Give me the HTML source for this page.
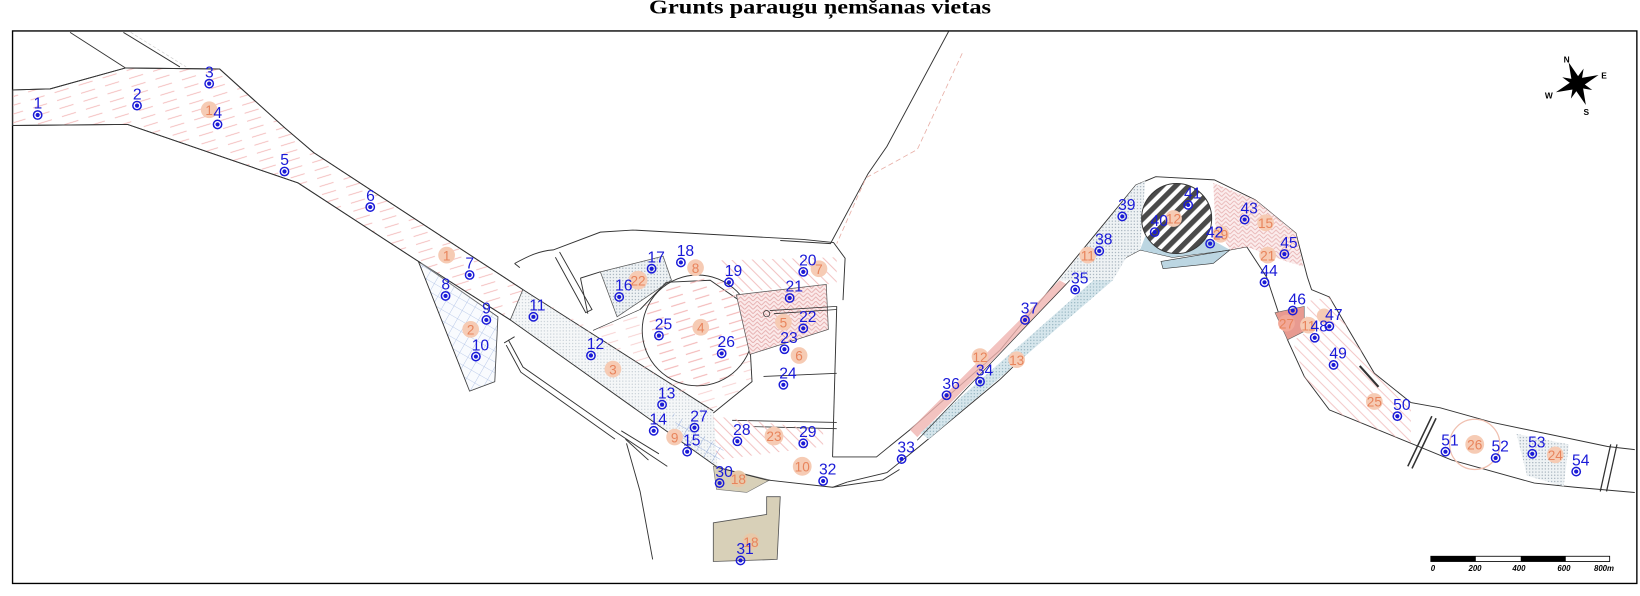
<!DOCTYPE html>
<html><head><meta charset="utf-8"><style>
html,body{margin:0;padding:0;background:#fff;}
svg{display:block;}
.m text{font-family:"Liberation Sans",sans-serif;font-size:15px;fill:#1a1ad8;}
.o text{font-family:"Liberation Sans",sans-serif;font-size:13px;fill:#e8845c;text-anchor:middle;}
</style></head><body>
<svg width="1640" height="596" viewBox="0 0 1568 570" preserveAspectRatio="none" xmlns="http://www.w3.org/2000/svg">
<defs>
<pattern id="rh" patternUnits="userSpaceOnUse" width="24" height="8" patternTransform="rotate(-17)">
<line x1="0" y1="4" x2="14" y2="4" stroke="#f2b4b4" stroke-width="0.8"/></pattern>
<pattern id="rd" patternUnits="userSpaceOnUse" width="7" height="7" patternTransform="rotate(45)">
<line x1="0" y1="3" x2="7" y2="3" stroke="#efb4b4" stroke-width="0.8"/></pattern>
<pattern id="bg" patternUnits="userSpaceOnUse" width="9" height="9" patternTransform="rotate(30)">
<path d="M0 0H9M0 0V9" stroke="#8aa4d8" stroke-width="0.8" fill="none"/></pattern>
<pattern id="dt" patternUnits="userSpaceOnUse" width="3" height="3">
<rect width="3" height="3" fill="#eef2f4"/><circle cx="1.5" cy="1.5" r="0.6" fill="#9aa8b4"/></pattern>
<pattern id="bd" patternUnits="userSpaceOnUse" width="3" height="3">
<rect width="3" height="3" fill="#d6e6ec"/><circle cx="1.5" cy="1.5" r="0.6" fill="#8fb0bd"/></pattern>
<pattern id="bk" patternUnits="userSpaceOnUse" width="9" height="9" patternTransform="rotate(-45)">
<rect width="9" height="9" fill="#fff"/><rect width="9" height="5" fill="#4a4a4a"/></pattern>
<pattern id="hb" patternUnits="userSpaceOnUse" width="8" height="8">
<rect width="8" height="8" fill="#fbeaea"/><path d="M0 8L4 4L8 8M0 4L4 0L8 4" stroke="#e4a8a8" stroke-width="0.8" fill="none"/></pattern>
</defs>

<text x="784" y="13" text-anchor="middle" font-family="Liberation Serif,serif" font-weight="bold" font-size="19" textLength="327" lengthAdjust="spacingAndGlyphs">Grunts paraugu ņemšanas vietas</text>
<rect x="12" y="29.6" width="1553" height="528.4" fill="none" stroke="#000" stroke-width="1.3"/>

<polygon points="12,86 48,85 120,65 210,66 272,122 300,146 500,277 488,306 400,250 285,175 122,119 12,120" fill="url(#rh)" stroke="#333" stroke-width="0.9"/>
<polygon points="500,277 682,393 686,447 488,306" fill="url(#dt)" opacity="0.6"/>
<path d="M12,86 48,85 120,65 210,66 272,122 300,146 500,277 682,393" fill="none" stroke="#333" stroke-width="0.9"/>
<path d="M12,120 122,119 285,175 400,250 488,306 686,447" fill="none" stroke="#333" stroke-width="0.9"/>
<path d="M67,31 120,65 M118,31 172,64" stroke="#333" stroke-width="0.9" fill="none"/>
<path d="M125,31 178,64" stroke="#ccc" stroke-width="0.6" stroke-dasharray="3,2" fill="none"/>
<polygon points="400,250 476,303 473,365 449,374" fill="url(#bg)" stroke="#333" stroke-width="0.9"/>
<polygon points="402,250 476,303 473,365 449,374" fill="#eef3fb" opacity="0.35"/>

<path d="M492,252 C505,245 515,240 529,239 L574,222 605,220 768,229 797,232 808,247 806,287" fill="none" stroke="#333" stroke-width="0.9"/>
<path d="M497,256 L492,252" stroke="#333" stroke-width="0.9"/>
<path d="M800,293 L796,437" fill="none" stroke="#333" stroke-width="0.9"/>
<path d="M535,241 L566,296 560,299 531,246" fill="none" stroke="#333" stroke-width="0.9"/>
<path d="M555,266 L574,260 M555,266 L562,300" fill="none" stroke="#333" stroke-width="0.9"/>
<path d="M486,325 L500,351 590,414 638,446" fill="none" stroke="#333" stroke-width="0.9"/>
<path d="M482,328 L492,322 M484,330 L498,356 588,420" fill="none" stroke="#333" stroke-width="0.9"/>
<path d="M599,424 L612,470 624,535" fill="none" stroke="#333" stroke-width="0.9"/>
<path d="M594,412 L630,434 M598,420 L620,440" fill="none" stroke="#333" stroke-width="0.9"/>
<path d="M907,30 L848,140 830,166 794,233 746,230" fill="none" stroke="#333" stroke-width="0.9"/>
<path d="M920,51 L877,143 828,170 800,233" fill="none" stroke="#e8b0a8" stroke-width="0.8" stroke-dasharray="5,3"/>
<polygon points="574,260 634,245 642,268 590,303" fill="url(#dt)" stroke="#555" stroke-width="0.7"/>
<polygon points="567,316 612,296 637,270 679,268 715,293 719,365 682,395 500,277" fill="url(#rh)" opacity="0.7"/>
<path d="M612,296 L637,270 679,268 715,293 719,365 682,395" fill="none" stroke="#333" stroke-width="0.9"/>
<path d="M567,316 L612,296" stroke="#333" stroke-width="0.6"/>
<circle cx="667" cy="316" r="53" fill="url(#rh)" stroke="#333" stroke-width="0.9"/>
<polygon points="688,249 800,246 800,271 701,280" fill="url(#rd)"/>
<polygon points="704,282 790,272 792,315 717,339" fill="url(#hb)" stroke="#555" stroke-width="0.7"/>
<path d="M736,297 L800,293 M740,300 L800,296 M730,360 L800,357 M700,402 L800,404 M720,408 L800,410" stroke="#333" stroke-width="0.8" fill="none"/>
<circle cx="733" cy="300" r="3" fill="none" stroke="#333" stroke-width="0.7"/>
<polygon points="682,398 787,411 787,427 685,440" fill="url(#rd)"/>
<polygon points="640,392 692,430 686,447 655,425" fill="url(#bg)"/>
<polygon points="682,446 736,459 714,471 685,468" fill="#d8d0b8" stroke="#777" stroke-width="0.6"/>
<polygon points="682,500 733,492 733,475 746,475 743,535 682,537" fill="#d8d0b8" stroke="#555" stroke-width="0.8"/>

<path d="M686,447 733,459 796,466 844,459 860,449" fill="none" stroke="#333" stroke-width="0.9"/>
<path d="M796,437 838,437 870,411 956,335 1086,177 1105,169 1161,172 1200,191 1239,223 1250,265 1254,277 1271,284 1314,357 1349,385 1377,390 1427,404 1537,427 1563,430" fill="none" stroke="#333" stroke-width="0.9"/>
<path d="M810,461 848,452 879,427 956,363 1077,246 1090,239 1121,246 1176,239 1192,236 1211,265 1231,325 1247,360 1271,392 1310,408 1349,424 1388,440 1467,462 1506,466 1563,471" fill="none" stroke="#333" stroke-width="0.9"/>
<path d="M796,466 810,461" stroke="#333" stroke-width="0.9"/>
<polygon points="870,411 1013,268 1020,272 877,418" fill="#f0b4b0" opacity="0.8"/>
<polygon points="888,420 1064,268 1050,264 880,414" fill="url(#bd)"/>
<path d="M877,421 L1023,268" stroke="#333" stroke-width="0.7"/>
<polygon points="1013,268 1086,177 1095,173 1090,239 1077,246 1064,268" fill="url(#dt)"/>
<polygon points="1090,239 1121,246 1176,239 1160,230 1120,222 1095,226" fill="#bcd6e2"/>
<polygon points="1110,250 1176,239 1160,252 1112,257" fill="#bcd6e2" stroke="#333" stroke-width="0.6"/>
<circle cx="1125" cy="209" r="33.5" fill="url(#bk)" stroke="#333" stroke-width="0.9"/>
<polygon points="1160,175 1200,191 1239,223 1246,255 1230,250 1192,236 1176,239 1162,215" fill="url(#hb)" opacity="0.9"/>
<polygon points="1219,299 1247,293 1247,317 1231,325" fill="#e89a90" stroke="#666" stroke-width="0.6"/>
<polygon points="1250,288 1271,284 1314,357 1349,385 1349,424 1310,408 1271,392 1247,360 1236,326 1248,318" fill="url(#rd)" opacity="0.9"/>
<polygon points="1450,415 1500,425 1495,465 1460,455" fill="url(#dt)"/>
<circle cx="1410" cy="425" r="24" fill="none" stroke="#f0c0b0" stroke-width="1.2"/>
<path d="M1373,400 L1350,448 M1369,398 L1346,446" stroke="#333" stroke-width="1.5"/>
<path d="M1540,425 L1530,470 M1546,425 L1536,470" stroke="#333" stroke-width="1.2"/>
<path d="M1300,350 L1318,370" stroke="#333" stroke-width="2"/>

<g transform="translate(1508,80) rotate(-22)">
<polygon points="0,-22 4,-4 0,0 -4,-4" fill="#000"/><polygon points="0,22 4,4 0,0 -4,4" fill="#000"/>
<polygon points="22,0 4,4 0,0 4,-4" fill="#000"/><polygon points="-22,0 -4,4 0,0 -4,-4" fill="#000"/>
<polygon points="11,-11 3,2 0,0 -2,-3" fill="#000"/><polygon points="-11,11 -3,-2 0,0 2,3" fill="#000"/>
<polygon points="11,11 -2,3 0,0 3,-2" fill="#000"/><polygon points="-11,-11 2,-3 0,0 -3,2" fill="#000"/>
</g>
<g font-family="Liberation Sans,sans-serif" font-weight="bold" font-size="8" fill="#000">
<text x="1495" y="60">N</text><text x="1531" y="75">E</text><text x="1477" y="94">W</text><text x="1514" y="110">S</text></g>
<rect x="1368" y="532" width="171" height="5" fill="#fff" stroke="#000" stroke-width="0.8"/>
<rect x="1368" y="532" width="43" height="5" fill="#000"/><rect x="1454" y="532" width="43" height="5" fill="#000"/>
<g font-family="Liberation Sans,sans-serif" font-style="italic" font-weight="bold" font-size="7.5" fill="#000">
<text x="1368" y="546">0</text><text x="1404" y="546">200</text><text x="1446" y="546">400</text><text x="1489" y="546">600</text><text x="1524" y="546">800m</text></g>

<g class="o">
<circle cx="200" cy="105" r="8" fill="#f6cbb4"/><text x="200" y="110">1</text>
<circle cx="427" cy="244" r="8" fill="#f6cbb4"/><text x="427" y="249">1</text>
<circle cx="450" cy="315" r="8" fill="#f6cbb4"/><text x="450" y="320">2</text>
<circle cx="586" cy="353" r="8" fill="#f6cbb4"/><text x="586" y="358">3</text>
<circle cx="670" cy="313" r="8" fill="#f6cbb4"/><text x="670" y="318">4</text>
<circle cx="749" cy="308" r="8" fill="#f6cbb4"/><text x="749" y="313">5</text>
<circle cx="764" cy="340" r="8" fill="#f6cbb4"/><text x="764" y="345">6</text>
<circle cx="783" cy="257" r="8" fill="#f6cbb4"/><text x="783" y="262">7</text>
<circle cx="665" cy="256" r="8" fill="#f6cbb4"/><text x="665" y="261">8</text>
<circle cx="645" cy="418" r="8" fill="#f6cbb4"/><text x="645" y="423">9</text>
<circle cx="767" cy="446" r="9" fill="#f6cbb4"/><text x="767" y="451">10</text>
<circle cx="706" cy="458" r="8" fill="#e8c8a8"/><text x="706" y="463">18</text>
<circle cx="718" cy="518" r="8" fill="#e8c8a8"/><text x="718" y="523">18</text>
<circle cx="610" cy="268" r="9" fill="#f6cbb4"/><text x="610" y="273">22</text>
<circle cx="740" cy="417" r="9" fill="#f6cbb4"/><text x="740" y="422">23</text>
<circle cx="1040" cy="244" r="8" fill="#f6cbb4"/><text x="1040" y="249">11</text>
<circle cx="937" cy="341" r="8" fill="#f6cbb4"/><text x="937" y="346">12</text>
<circle cx="972" cy="344" r="8" fill="#f6cbb4"/><text x="972" y="349">13</text>
<circle cx="1122" cy="209" r="8" fill="#f6cbb4"/><text x="1122" y="214">12</text>
<circle cx="1167" cy="224" r="8" fill="#f6cbb4"/><text x="1167" y="229">29</text>
<circle cx="1210" cy="213" r="8" fill="#f6cbb4"/><text x="1210" y="218">15</text>
<circle cx="1212" cy="244" r="8" fill="#f6cbb4"/><text x="1212" y="249">21</text>
<circle cx="1230" cy="309" r="8" fill="#f2a898"/><text x="1230" y="314">27</text>
<circle cx="1251" cy="311" r="8" fill="#f6cbb4"/><text x="1251" y="316">11</text>
<circle cx="1266" cy="302" r="7" fill="#f6cbb4"/>
<circle cx="1314" cy="384" r="8" fill="#f6cbb4"/><text x="1314" y="389">25</text>
<circle cx="1410" cy="425" r="9" fill="#f6cbb4"/><text x="1410" y="430">26</text>
<circle cx="1487" cy="435" r="8" fill="#f6cbb4"/><text x="1487" y="440">24</text>
</g>

<g class="m">
<g fill="none" stroke="#1a1ad8" stroke-width="1.4">
<circle cx="36" cy="110" r="4"/><circle cx="131" cy="101" r="4"/><circle cx="200" cy="80" r="4"/><circle cx="208" cy="119" r="4"/><circle cx="272" cy="164" r="4"/><circle cx="354" cy="198" r="4"/><circle cx="449" cy="263" r="4"/><circle cx="426" cy="283" r="4"/><circle cx="465" cy="306" r="4"/><circle cx="455" cy="341" r="4"/><circle cx="510" cy="303" r="4"/><circle cx="565" cy="340" r="4"/><circle cx="633" cy="387" r="4"/><circle cx="625" cy="412" r="4"/><circle cx="657" cy="432" r="4"/><circle cx="592" cy="284" r="4"/><circle cx="623" cy="257" r="4"/><circle cx="651" cy="251" r="4"/><circle cx="697" cy="270" r="4"/><circle cx="768" cy="260" r="4"/><circle cx="755" cy="285" r="4"/><circle cx="768" cy="314" r="4"/><circle cx="750" cy="334" r="4"/><circle cx="749" cy="368" r="4"/><circle cx="630" cy="321" r="4"/><circle cx="690" cy="338" r="4"/><circle cx="664" cy="409" r="4"/><circle cx="705" cy="422" r="4"/><circle cx="768" cy="424" r="4"/><circle cx="688" cy="462" r="4"/><circle cx="708" cy="536" r="4"/><circle cx="787" cy="460" r="4"/><circle cx="862" cy="439" r="4"/><circle cx="937" cy="365" r="4"/><circle cx="1028" cy="277" r="4"/><circle cx="905" cy="378" r="4"/><circle cx="980" cy="306" r="4"/><circle cx="1051" cy="240" r="4"/><circle cx="1073" cy="207" r="4"/><circle cx="1104" cy="222" r="4"/><circle cx="1136" cy="196" r="4"/><circle cx="1157" cy="233" r="4"/><circle cx="1190" cy="210" r="4"/><circle cx="1209" cy="270" r="4"/><circle cx="1228" cy="243" r="4"/><circle cx="1236" cy="297" r="4"/><circle cx="1271" cy="312" r="4"/><circle cx="1257" cy="323" r="4"/><circle cx="1275" cy="349" r="4"/><circle cx="1336" cy="398" r="4"/><circle cx="1382" cy="432" r="4"/><circle cx="1430" cy="438" r="4"/><circle cx="1465" cy="434" r="4"/><circle cx="1507" cy="451" r="4"/>
</g>
<g fill="#1a1ad8">
<circle cx="36" cy="110" r="2"/><circle cx="131" cy="101" r="2"/><circle cx="200" cy="80" r="2"/><circle cx="208" cy="119" r="2"/><circle cx="272" cy="164" r="2"/><circle cx="354" cy="198" r="2"/><circle cx="449" cy="263" r="2"/><circle cx="426" cy="283" r="2"/><circle cx="465" cy="306" r="2"/><circle cx="455" cy="341" r="2"/><circle cx="510" cy="303" r="2"/><circle cx="565" cy="340" r="2"/><circle cx="633" cy="387" r="2"/><circle cx="625" cy="412" r="2"/><circle cx="657" cy="432" r="2"/><circle cx="592" cy="284" r="2"/><circle cx="623" cy="257" r="2"/><circle cx="651" cy="251" r="2"/><circle cx="697" cy="270" r="2"/><circle cx="768" cy="260" r="2"/><circle cx="755" cy="285" r="2"/><circle cx="768" cy="314" r="2"/><circle cx="750" cy="334" r="2"/><circle cx="749" cy="368" r="2"/><circle cx="630" cy="321" r="2"/><circle cx="690" cy="338" r="2"/><circle cx="664" cy="409" r="2"/><circle cx="705" cy="422" r="2"/><circle cx="768" cy="424" r="2"/><circle cx="688" cy="462" r="2"/><circle cx="708" cy="536" r="2"/><circle cx="787" cy="460" r="2"/><circle cx="862" cy="439" r="2"/><circle cx="937" cy="365" r="2"/><circle cx="1028" cy="277" r="2"/><circle cx="905" cy="378" r="2"/><circle cx="980" cy="306" r="2"/><circle cx="1051" cy="240" r="2"/><circle cx="1073" cy="207" r="2"/><circle cx="1104" cy="222" r="2"/><circle cx="1136" cy="196" r="2"/><circle cx="1157" cy="233" r="2"/><circle cx="1190" cy="210" r="2"/><circle cx="1209" cy="270" r="2"/><circle cx="1228" cy="243" r="2"/><circle cx="1236" cy="297" r="2"/><circle cx="1271" cy="312" r="2"/><circle cx="1257" cy="323" r="2"/><circle cx="1275" cy="349" r="2"/><circle cx="1336" cy="398" r="2"/><circle cx="1382" cy="432" r="2"/><circle cx="1430" cy="438" r="2"/><circle cx="1465" cy="434" r="2"/><circle cx="1507" cy="451" r="2"/>
</g>
<text x="32" y="104">1</text><text x="127" y="95">2</text><text x="196" y="74">3</text><text x="204" y="113">4</text><text x="268" y="158">5</text><text x="350" y="192">6</text><text x="445" y="257">7</text><text x="422" y="277">8</text><text x="461" y="300">9</text><text x="451" y="335">10</text><text x="506" y="297">11</text><text x="561" y="334">12</text><text x="629" y="381">13</text><text x="621" y="406">14</text><text x="653" y="426">15</text><text x="588" y="278">16</text><text x="619" y="251">17</text><text x="647" y="245">18</text><text x="693" y="264">19</text><text x="764" y="254">20</text><text x="751" y="279">21</text><text x="764" y="308">22</text><text x="746" y="328">23</text><text x="745" y="362">24</text><text x="626" y="315">25</text><text x="686" y="332">26</text><text x="660" y="403">27</text><text x="701" y="416">28</text><text x="764" y="418">29</text><text x="684" y="456">30</text><text x="704" y="530">31</text><text x="783" y="454">32</text><text x="858" y="433">33</text><text x="933" y="359">34</text><text x="1024" y="271">35</text><text x="901" y="372">36</text><text x="976" y="300">37</text><text x="1047" y="234">38</text><text x="1069" y="201">39</text><text x="1100" y="216">40</text><text x="1132" y="190">41</text><text x="1153" y="227">42</text><text x="1186" y="204">43</text><text x="1205" y="264">44</text><text x="1224" y="237">45</text><text x="1232" y="291">46</text><text x="1267" y="306">47</text><text x="1253" y="317">48</text><text x="1271" y="343">49</text><text x="1332" y="392">50</text><text x="1378" y="426">51</text><text x="1426" y="432">52</text><text x="1461" y="428">53</text><text x="1503" y="445">54</text>
</g>
</svg>
</body></html>
